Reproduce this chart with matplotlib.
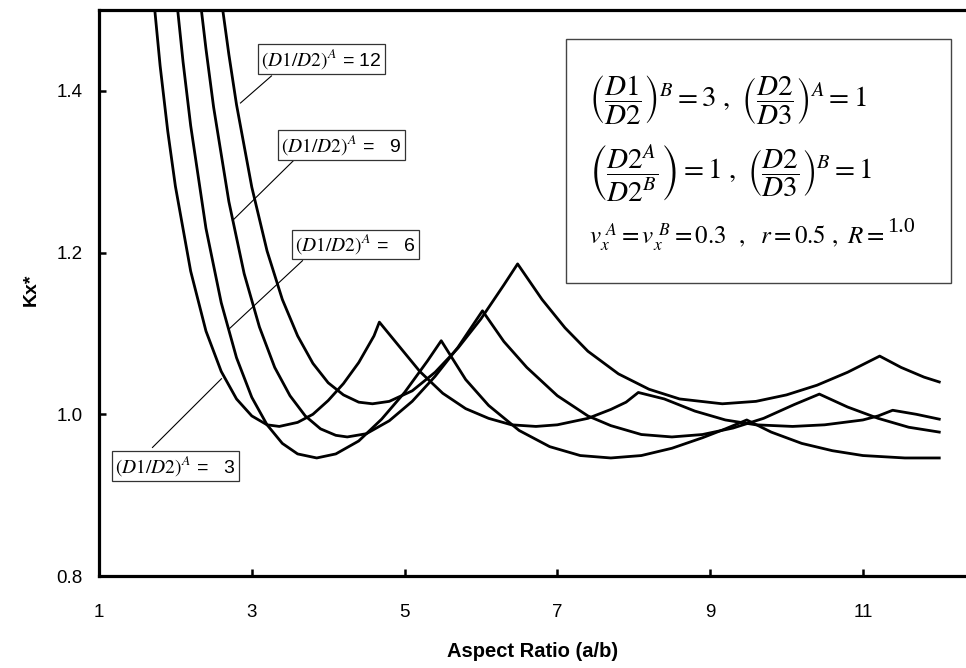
import matplotlib
matplotlib.use("Agg")
import matplotlib.pyplot as plt
from matplotlib.patches import Rectangle

plt.rcParams['font.family'] = ['Liberation Sans', 'DejaVu Sans']
plt.rcParams['mathtext.fontset'] = 'stix'

# ---- data ----
x3 = [1.73, 1.8, 1.9, 2.0, 2.2, 2.4, 2.6, 2.8, 3.0, 3.2, 3.36, 3.6, 3.8, 4.0, 4.2, 4.4, 4.6, 4.67,
      5.0, 5.2, 5.5, 5.8, 6.1, 6.4, 6.72, 7.0, 7.4, 7.7, 7.9, 8.06, 8.4, 8.8, 9.2, 9.6, 10.08,
      10.5, 11.0, 11.2, 11.39, 11.7, 12.0]
y3 = [1.50, 1.431, 1.350, 1.282, 1.177, 1.103, 1.053, 1.019, 0.998, 0.987, 0.985, 0.990, 1.000,
      1.017, 1.038, 1.064, 1.097, 1.114, 1.076, 1.053, 1.026, 1.007, 0.995, 0.987, 0.985, 0.987,
      0.995, 1.006, 1.015, 1.027, 1.019, 1.004, 0.993, 0.987, 0.985, 0.987, 0.993, 0.998, 1.005,
      1.000, 0.994]

x6 = [2.03, 2.1, 2.2, 2.4, 2.6, 2.8, 3.0, 3.2, 3.4, 3.6, 3.85, 4.1, 4.4, 4.7, 5.0, 5.3, 5.48,
      5.8, 6.1, 6.5, 6.9, 7.3, 7.7, 8.1, 8.5, 8.9, 9.2, 9.48, 9.8, 10.2, 10.6, 11.0, 11.55, 12.0]
y6 = [1.50, 1.436, 1.357, 1.230, 1.138, 1.070, 1.021, 0.987, 0.964, 0.951, 0.946, 0.951, 0.967,
      0.994, 1.027, 1.066, 1.091, 1.043, 1.011, 0.980, 0.960, 0.949, 0.946, 0.949, 0.958, 0.971,
      0.982, 0.993, 0.978, 0.964, 0.955, 0.949, 0.946, 0.946]

x9 = [2.34, 2.4, 2.5, 2.7, 2.9, 3.1, 3.3, 3.5, 3.7, 3.9, 4.1, 4.25, 4.5, 4.8, 5.1, 5.4, 5.7, 6.02,
      6.3, 6.6, 7.0, 7.4, 7.7, 8.1, 8.5, 8.9, 9.3, 9.7, 10.1, 10.43, 10.8, 11.2, 11.6, 12.0]
y9 = [1.50, 1.452, 1.380, 1.263, 1.174, 1.108, 1.058, 1.023, 0.998, 0.982, 0.974, 0.972, 0.976,
      0.992, 1.016, 1.047, 1.083, 1.128, 1.090, 1.058, 1.023, 0.998, 0.986, 0.975, 0.972, 0.975,
      0.983, 0.995, 1.012, 1.025, 1.009, 0.995, 0.984, 0.978]

x12 = [2.62, 2.7, 2.8, 3.0, 3.2, 3.4, 3.6, 3.8, 4.0, 4.2, 4.4, 4.58, 4.8, 5.1, 5.4, 5.7, 6.0, 6.3,
       6.48, 6.8, 7.1, 7.4, 7.8, 8.2, 8.6, 9.16, 9.6, 10.0, 10.4, 10.8, 11.22, 11.5, 11.8, 12.0]
y12 = [1.50, 1.445, 1.383, 1.281, 1.202, 1.142, 1.097, 1.063, 1.039, 1.024, 1.015, 1.013, 1.016,
       1.029, 1.052, 1.082, 1.118, 1.160, 1.186, 1.142, 1.107, 1.078, 1.050, 1.031, 1.019, 1.013,
       1.016, 1.024, 1.036, 1.052, 1.072, 1.058, 1.046, 1.040]

ratios = [3, 6, 9, 12]
series_x = [x3, x6, x9, x12]
series_y = [y3, y6, y9, y12]
label_texts = ["$(D1/D2)^{A}$ =   3", "$(D1/D2)^{A}$ =   6",
               "$(D1/D2)^{A}$ =   9", "$(D1/D2)^{A}$ = 12"]

x_ticks = [1, 3, 5, 7, 9, 11]
y_ticks = [0.8, 1.0, 1.2, 1.4]

# ---- figure ----
fig = plt.figure(figsize=(9.66, 6.68), dpi=100)
ax = fig.add_axes([0.1025, 0.1377, 0.8975, 0.8473])
ax.set_xlim(1, 12.35)
ax.set_ylim(0.8, 1.5)

for xs, ys in zip(series_x, series_y):
    ax.plot(xs, ys, color='black', lw=2.0, solid_joinstyle='round', zorder=2, clip_on=True)

ax.set_xticks(x_ticks)
ax.set_xticklabels([str(v) for v in x_ticks])
ax.set_yticks(y_ticks)
ax.set_yticklabels([f"{v:.1f}" for v in y_ticks])
ax.tick_params(axis='both', direction='in', length=5, width=1.8, labelsize=13.5)
ax.tick_params(axis='x', pad=20)
ax.tick_params(axis='y', pad=12)
ax.spines['right'].set_visible(False)
for s in ['top', 'left', 'bottom']:
    ax.spines[s].set_linewidth(2.3)

ax.set_xlabel("Aspect Ratio (a/b)", fontsize=14.5, fontweight='bold')
ax.xaxis.label.set_verticalalignment('center')
ax.xaxis.set_label_coords(0.5, -0.134)
ax.set_ylabel("Kx*", fontsize=14, fontweight='bold')
ax.yaxis.label.set_verticalalignment('center')
ax.yaxis.set_label_coords(-0.078, 0.505)

# curve labels (position of box centre, leader line start/end)
label_pos = {3: (2.00, 0.936), 6: (4.357, 1.210), 9: (4.174, 1.333), 12: (3.912, 1.4395)}
leaders = {3: ((1.700, 0.959), (2.603, 1.044)),
           6: ((3.664, 1.190), (2.708, 1.106)),
           9: ((3.559, 1.315), (2.747, 1.2395)),
           12: ((3.258, 1.4185), (2.852, 1.385))}
for r, t in zip(ratios, label_texts):
    (xa, ya), (xb, yb) = leaders[r]
    ax.plot([xa, xb], [ya, yb], color='black', lw=0.8, zorder=3)
    lx, ly = label_pos[r]
    ax.text(lx, ly, t, ha='center', va='center', fontsize=14, zorder=4,
            bbox=dict(boxstyle='square,pad=0.15', fc='white', ec='#333333', lw=0.9))

# parameter box
ax.add_patch(Rectangle((7.119, 1.163), 12.158 - 7.119, 1.4642 - 1.163,
                       fc='white', ec='#444444', lw=1.0, zorder=5))
tx = 7.42
ax.text(tx, 1.3877,
        r"$\left(\dfrac{D1}{D2}\right)^{B} = 3\ ,\ \left(\dfrac{D2}{D3}\right)^{A} = 1$",
        ha='left', va='center', fontsize=21, zorder=6)
ax.text(tx, 1.2975,
        r"$\left(\dfrac{D2^{A}}{D2^{B}}\right) = 1\ ,\ \left(\dfrac{D2}{D3}\right)^{B} = 1$",
        ha='left', va='center', fontsize=21, zorder=6)
t3 = ax.text(tx, 1.2185,
             r"$v_x^{\ A} = v_x^{\ B} = \mathit{0.3}\ \ ,\ \ r = \mathit{0.5}\ ,\ R = $",
             ha='left', va='center', fontsize=18, zorder=6)
fig.canvas.draw()
bb = t3.get_window_extent().transformed(ax.transData.inverted())
ax.text(bb.x1 + 0.03, 1.231, "1.0", ha='left', va='center', fontsize=16,
        family='Liberation Serif', zorder=6)

fig.savefig("out.png", dpi=100)
